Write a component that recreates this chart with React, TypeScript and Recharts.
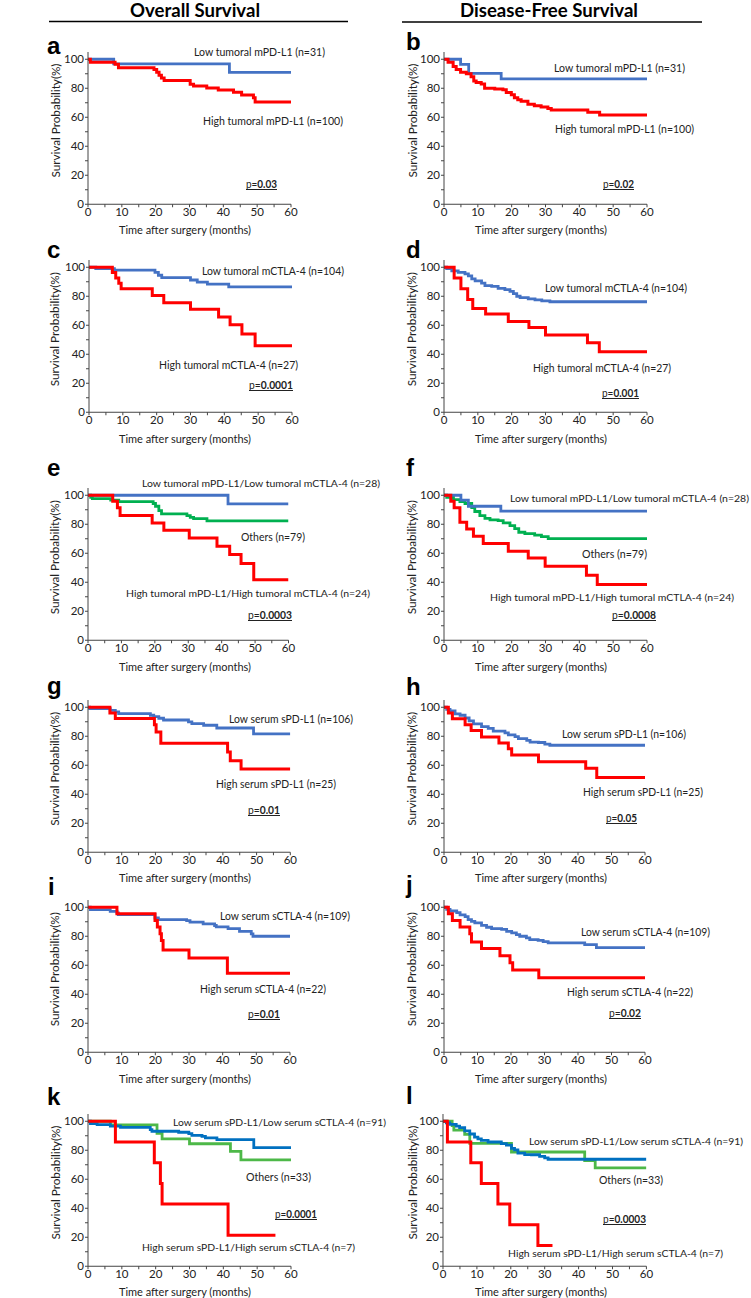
import React from "react";
import { LineChart, Line, XAxis, YAxis } from "recharts";

type Step = [number, number]; // [months, survival %]

// ---- Kaplan-Meier steps ----
const aLow: Step[] = [[0, 100], [7.6, 96.8], [41.8, 91], [60, 91]];
const aHigh: Step[] = [[0, 100], [0.7, 98], [8, 96.5], [9, 94.2], [19.5, 93], [20.3, 91], [21, 89], [21.7, 87], [22.5, 85.3], [30.2, 82.7], [31.2, 81.6], [35.1, 80.2], [38.5, 78.8], [43, 77.2], [45.4, 75.3], [48.9, 73.5], [49.4, 70.5], [60, 70.5]];

const bLow: Step[] = [[0, 100], [4.9, 96.5], [7.3, 90.3], [16.9, 86.4], [60, 86.4]];
const bHigh: Step[] = [[0, 100], [1.2, 98], [2.7, 95], [3.6, 93], [4.9, 91], [6.6, 90], [8, 88], [8.8, 85], [9.5, 84], [11, 83], [12, 80], [15, 79.5], [17.4, 79], [18.4, 77], [19.9, 75.6], [20.8, 73.5], [21.8, 72], [22.8, 71], [24.8, 69], [26.7, 68], [28.7, 67], [30.7, 66], [31.7, 65], [42.5, 63.5], [46, 61.5], [60, 61.5]];

const cLow: Step[] = [[0, 100], [2, 99], [7.5, 98], [19.5, 96.5], [20.5, 94.5], [21.5, 92.8], [30, 91.2], [32, 89.8], [35, 88.4], [41.3, 86.5], [60, 86.5]];
const cHigh: Step[] = [[0, 100], [6.9, 96.3], [7.9, 92.6], [8.8, 88.9], [9.5, 85.2], [18.7, 80.5], [22.1, 75.6], [30, 71], [38.3, 65.7], [41.7, 60.3], [45.2, 54], [49.1, 45.9], [60, 45.9]];

const dLow: Step[] = [[0, 100], [0.8, 99], [2.3, 97.5], [4.2, 96.5], [6.2, 95.4], [7.2, 94], [8.2, 92], [9.2, 90.6], [11.1, 89], [12.1, 87.3], [14.1, 86.8], [16, 85.5], [18, 84.6], [19.5, 83.4], [20.5, 81.8], [21.5, 80], [22.5, 79], [24.9, 78.2], [26.9, 77.5], [28.9, 76.8], [31.3, 76.2], [60, 76.2]];
const dHigh: Step[] = [[0, 100], [3, 92.6], [5, 85.2], [7, 77.8], [8.5, 71.6], [12.3, 67.7], [19, 62.6], [25.1, 58.4], [30, 53.3], [42.4, 48], [45.9, 41.8], [60, 41.8]];

const eLow: Step[] = [[0, 100], [41.9, 94], [60, 94]];
const eOther: Step[] = [[0, 100], [0.8, 98.6], [1.3, 97.7], [6.8, 96.6], [9.2, 95.6], [19.5, 94.3], [20.2, 92.4], [21.2, 89.4], [22, 87.1], [29.6, 86], [30.6, 84.8], [31.6, 83.9], [35.6, 82.3], [60, 82.3]];
const eHigh: Step[] = [[0, 100], [7.4, 95.9], [8.8, 91.3], [9.6, 86], [19.2, 80.9], [22.7, 75.9], [30.3, 70.6], [38.6, 64.8], [42.4, 59.1], [45.8, 52.9], [49.6, 41.8], [60, 41.8]];

const fLow: Step[] = [[0, 100], [5, 96.6], [7.2, 92.4], [16.8, 89], [60, 89]];
const fOther: Step[] = [[0, 100], [0.8, 98.6], [2.8, 97], [4.7, 95.6], [6.2, 94.3], [8.2, 91.5], [9.1, 88.8], [10.6, 86], [12.1, 84], [13.6, 83], [16, 82.5], [17.5, 81], [19.5, 79], [20.9, 77], [22.1, 74.5], [23.9, 73.5], [26.8, 72.5], [28.8, 71.5], [30.8, 70.1], [60, 70.1]];
const fHigh: Step[] = [[0, 100], [2, 95.8], [3, 91.3], [4.7, 81.4], [6.7, 76.8], [8.7, 71.7], [11.6, 66.7], [19, 61.4], [24.9, 56.8], [29.9, 51], [42.1, 44.8], [45.3, 38.4], [60, 38.4]];

const gLow: Step[] = [[0, 100], [0.5, 99], [6.6, 97.9], [8.1, 96.8], [9.1, 95.6], [18.5, 94.5], [19.5, 93.5], [21, 92.4], [22.4, 91.2], [29.8, 89.9], [30.8, 88.7], [34.3, 87.6], [38.2, 85.7], [49.1, 81.6], [60, 81.6]];
const gHigh: Step[] = [[0, 100], [6.5, 96.1], [8.1, 92.2], [19.7, 88], [20.2, 83], [21.6, 75.1], [41.4, 69.1], [42.2, 63.1], [45.4, 57.4], [60, 57.4]];

const hLow: Step[] = [[0, 100], [0.8, 98.6], [1.8, 97.5], [3.3, 95.5], [4.8, 94.5], [6.3, 92.6], [7.5, 90.6], [8.8, 88.5], [11.2, 86.7], [13.2, 85.5], [14.7, 83.6], [18.2, 82.3], [19.2, 81], [21.2, 79.8], [22.2, 78.4], [24.7, 77.2], [25.7, 76], [28.2, 75.7], [30.1, 74.6], [31.6, 73.8], [60, 73.8]];
const hHigh: Step[] = [[0, 100], [1.3, 96], [2.5, 92], [6.3, 88], [8.1, 84], [11.2, 79.5], [16.4, 75.3], [19.2, 71.3], [20.2, 67], [28.2, 62.5], [42.3, 58], [45.6, 51.5], [60, 51.5]];

const iLow: Step[] = [[0, 100], [0.7, 98.4], [6.6, 97.2], [8.6, 96.1], [9, 95], [19.9, 92.6], [20.9, 91.5], [29.3, 90.8], [30.3, 89.7], [34.2, 88.5], [37.6, 87.4], [38.1, 86.4], [41.6, 85.3], [45, 83.4], [48.5, 81.6], [49, 80], [60, 80]];
const iHigh: Step[] = [[0, 100], [8.6, 95.5], [19.9, 90.9], [20.6, 86.4], [21.4, 81.8], [21.8, 77], [22.3, 70.5], [30, 65], [41.4, 54.4], [60, 54.4]];

const jLow: Step[] = [[0, 100], [0.8, 98.5], [1.8, 97.4], [3.8, 96.3], [4.8, 94.7], [6.3, 93.6], [7.2, 91.5], [8.2, 90.3], [9.2, 89.2], [11.2, 87.5], [12.7, 86.2], [14.2, 85.3], [17.2, 84.8], [18.7, 83.4], [20.2, 82.3], [21.6, 81.1], [22.6, 80], [24.6, 78.9], [25.6, 77.7], [28.1, 77.2], [29.6, 76.3], [31.1, 75.4], [42, 74.2], [45.5, 72.2], [60, 72.2]];
const jHigh: Step[] = [[0, 100], [1.3, 95.5], [2.5, 90.9], [4.8, 86.4], [7.7, 81.8], [8.2, 76], [11.2, 71.5], [16.7, 66.5], [19.7, 61.8], [20.5, 56.7], [28.3, 51.3], [60, 51.3]];

const kLow: Step[] = [[0, 100], [0.7, 98.4], [2.7, 97.7], [6.6, 96.7], [9.6, 95.8], [18.4, 94.2], [18.9, 93.1], [26.8, 92.4], [29.8, 91.5], [30.7, 90.3], [33.7, 89.6], [34.7, 88.5], [38.1, 87.3], [49, 81.8], [60, 81.8]];
const kOther: Step[] = [[0, 100], [6.6, 97.5], [20.4, 91.7], [21.9, 87.8], [30, 84.5], [42.1, 79.2], [45.2, 73.4], [60, 73.4]];
const kHigh: Step[] = [[0, 100], [8.1, 85.7], [19.6, 71.4], [21.4, 57.1], [21.9, 42.9], [41.4, 21.4], [55.4, 21.4]];

const lLow: Step[] = [[0, 100], [1, 98.9], [2, 97.8], [3.9, 96.7], [4.9, 95.6], [6.4, 93.4], [7.9, 91.2], [9.3, 89], [10.3, 87.9], [11.3, 86.8], [13.3, 85.7], [17.2, 84.6], [18.7, 83.5], [20.2, 81.3], [21.1, 80.2], [22.1, 78], [24.1, 77], [26.1, 76.9], [28.5, 75.8], [30, 74.7], [31, 73.8], [60, 73.8]];
const lOther: Step[] = [[0, 100], [2.7, 97], [3.2, 93.9], [6.4, 90.9], [7.9, 84.8], [20.2, 78.8], [41.8, 72.9], [44.9, 67.9], [60, 67.9]];
const lHigh: Step[] = [[0, 100], [1.3, 85.7], [8.2, 71.4], [11.3, 57.1], [16.2, 42.9], [19.7, 28.6], [28, 14.3], [32.3, 14.3]];

const xTicks = [0, 5, 10, 15, 20, 25, 30, 35, 40, 45, 50, 55, 60];
const yTicks = [0, 10, 20, 30, 40, 50, 60, 70, 80, 90, 100];

const columnTitles = ["Overall Survival", "Disease-Free Survival"];
const xTitle = "Time after surgery (months)";
const yTitle = "Survival  Probability(%)";

// ---- styling ----
const FONT = "Lato, 'Open Sans', sans-serif";
const RED = "#FF0000";
const BLUE = "#4472C4";
const GREEN = "#00B050";
const BLUE2 = "#0070C0";
const GREEN2 = "#4DB848";

const PLOT_H = 152.25; // 0..105 at 145px per 100
const YW = 30;
const XH = 24;
const RM = 12;

interface Series { data: Step[]; color: string; width: number }
interface Note { text: string; x: number; r: number; y: number; p?: boolean }
interface Panel { letter: string; lx: number; ly: number; x0: number; w: number; yb: number; series: Series[]; notes: Note[] }

const red = (data: Step[]): Series => ({ data, color: RED, width: 3 });
const blue = (data: Step[], c = BLUE): Series => ({ data, color: c, width: 2.8 });
const green = (data: Step[], c = GREEN): Series => ({ data, color: c, width: 2.8 });

const panels: Panel[] = [
  { letter: "a", lx: 47, ly: 54, x0: 88, w: 203, yb: 204, series: [blue(aLow), red(aHigh)], notes: [
    { text: "Low tumoral mPD-L1 (n=31)", x: 194, r: 325, y: 51 },
    { text: "High tumoral mPD-L1 (n=100)", x: 203, r: 343, y: 120 },
    { text: "0.03", x: 246, r: 277, y: 183, p: true }] },
  { letter: "b", lx: 406, ly: 50, x0: 444, w: 203, yb: 204, series: [blue(bLow), red(bHigh)], notes: [
    { text: "Low tumoral mPD-L1 (n=31)", x: 554, r: 685, y: 67 },
    { text: "High tumoral mPD-L1 (n=100)", x: 555, r: 694, y: 128 },
    { text: "0.02", x: 603, r: 634, y: 183, p: true }] },
  { letter: "c", lx: 47, ly: 258, x0: 88.5, w: 203, yb: 412.7, series: [blue(cLow), red(cHigh)], notes: [
    { text: "Low tumoral mCTLA-4 (n=104)", x: 202, r: 344, y: 270 },
    { text: "High tumoral mCTLA-4 (n=27)", x: 159, r: 298, y: 364 },
    { text: "0.0001", x: 249, r: 293, y: 384, p: true }] },
  { letter: "d", lx: 406, ly: 258, x0: 444, w: 203, yb: 412.7, series: [blue(dLow), red(dHigh)], notes: [
    { text: "Low tumoral mCTLA-4 (n=104)", x: 545, r: 687, y: 287 },
    { text: "High tumoral mCTLA-4 (n=27)", x: 533, r: 671, y: 367 },
    { text: "0.001", x: 602, r: 639, y: 392, p: true }] },
  { letter: "e", lx: 47, ly: 476, x0: 87.7, w: 200.5, yb: 640.7, series: [green(eOther), blue(eLow), red(eHigh)], notes: [
    { text: "Low tumoral mPD-L1/Low tumoral mCTLA-4 (n=28)", x: 142, r: 380, y: 483 },
    { text: "Others (n=79)", x: 241, r: 305, y: 536 },
    { text: "High tumoral mPD-L1/High tumoral mCTLA-4 (n=24)", x: 126, r: 370, y: 593 },
    { text: "0.0003", x: 248, r: 292, y: 614, p: true }] },
  { letter: "f", lx: 406, ly: 476, x0: 444, w: 203, yb: 640.7, series: [green(fOther), blue(fLow), red(fHigh)], notes: [
    { text: "Low tumoral mPD-L1/Low tumoral mCTLA-4 (n=28)", x: 510, r: 749, y: 498 },
    { text: "Others (n=79)", x: 582, r: 647, y: 553 },
    { text: "High tumoral mPD-L1/High tumoral mCTLA-4 (n=24)", x: 490, r: 734, y: 597 },
    { text: "0.0008", x: 612, r: 656, y: 614, p: true }] },
  { letter: "g", lx: 47, ly: 694, x0: 87.7, w: 202.3, yb: 852.3, series: [blue(gLow), red(gHigh)], notes: [
    { text: "Low serum sPD-L1 (n=106)", x: 229, r: 353, y: 718 },
    { text: "High serum sPD-L1 (n=25)", x: 216, r: 336, y: 783 },
    { text: "0.01", x: 248, r: 280, y: 809, p: true }] },
  { letter: "h", lx: 406, ly: 695, x0: 444, w: 201, yb: 852.3, series: [blue(hLow), red(hHigh)], notes: [
    { text: "Low serum sPD-L1 (n=106)", x: 562, r: 686, y: 733 },
    { text: "High serum sPD-L1 (n=25)", x: 583, r: 703, y: 791 },
    { text: "0.05", x: 606, r: 637, y: 817, p: true }] },
  { letter: "i", lx: 48, ly: 895, x0: 88, w: 202, yb: 1052.7, series: [blue(iLow), red(iHigh)], notes: [
    { text: "Low serum sCTLA-4 (n=109)", x: 220, r: 350, y: 915 },
    { text: "High serum sCTLA-4 (n=22)", x: 200, r: 326, y: 988 },
    { text: "0.01", x: 248, r: 280, y: 1013, p: true }] },
  { letter: "j", lx: 406, ly: 893, x0: 444, w: 201, yb: 1052.7, series: [blue(jLow), red(jHigh)], notes: [
    { text: "Low serum sCTLA-4 (n=109)", x: 581, r: 710, y: 931 },
    { text: "High serum sCTLA-4 (n=22)", x: 567, r: 693, y: 991 },
    { text: "0.02", x: 609, r: 641, y: 1012, p: true }] },
  { letter: "k", lx: 47, ly: 1105, x0: 88, w: 203, yb: 1266, series: [green(kOther, GREEN2), blue(kLow, BLUE2), red(kHigh)], notes: [
    { text: "Low serum sPD-L1/Low serum sCTLA-4 (n=91)", x: 173, r: 386, y: 1122 },
    { text: "Others (n=33)", x: 246, r: 311, y: 1176 },
    { text: "0.0001", x: 275, r: 317, y: 1213, p: true },
    { text: "High serum sPD-L1/High serum sCTLA-4 (n=7)", x: 142, r: 355, y: 1247 }] },
  { letter: "l", lx: 406, ly: 1104, x0: 443.3, w: 203.4, yb: 1266, series: [green(lOther, GREEN2), blue(lLow, BLUE2), red(lHigh)], notes: [
    { text: "Low serum sPD-L1/Low serum sCTLA-4 (n=91)", x: 529, r: 743, y: 1141 },
    { text: "Others (n=33)", x: 599, r: 663, y: 1179 },
    { text: "0.0003", x: 603, r: 646, y: 1218, p: true },
    { text: "High serum sPD-L1/High serum sCTLA-4 (n=7)", x: 508, r: 723, y: 1253 }] },
];

const toRows = (d: Step[]) => d.map(([t, v]) => ({ t, v }));

function KmPanel({ p }: { p: Panel }) {
  const tick = { fontSize: 11.5, fill: "#222", fontFamily: FONT };
  return (
    <div style={{ position: "absolute", left: p.x0 - YW, top: p.yb - PLOT_H }}>
      <LineChart width={YW + p.w + RM} height={PLOT_H + XH} margin={{ top: 0, right: RM, bottom: 0, left: 0 }}>
        <XAxis type="number" dataKey="t" domain={[0, 60]} ticks={xTicks} interval={0}
          tickFormatter={(v: number) => (v % 10 === 0 ? String(v) : "")}
          height={XH} tickSize={3} tickMargin={1} stroke="#444" tick={tick} allowDataOverflow />
        <YAxis type="number" domain={[0, 105]} ticks={yTicks} interval={0}
          tickFormatter={(v: number) => (v % 20 === 0 ? String(v) : "")}
          width={YW} tickSize={3} tickMargin={1} stroke="#444" tick={tick} allowDataOverflow />
        {p.series.map((s, i) => (
          <Line key={i} data={toRows(s.data)} dataKey="v" type="stepAfter" stroke={s.color}
            strokeWidth={s.width} dot={false} activeDot={false} isAnimationActive={false} />
        ))}
      </LineChart>
    </div>
  );
}

function Overlay() {
  return (
    <svg width={751} height={1298} style={{ position: "absolute", left: 0, top: 0, pointerEvents: "none" }} fontFamily={FONT}>
      <text x={195} y={17} textAnchor="middle" fontSize={18} fontWeight="bold" textLength={130} lengthAdjust="spacingAndGlyphs">{columnTitles[0]}</text>
      <text x={549} y={17} textAnchor="middle" fontSize={18} fontWeight="bold" textLength={178} lengthAdjust="spacingAndGlyphs">{columnTitles[1]}</text>
      <line x1={49} x2={348} y1={21.5} y2={21.5} stroke="#000" strokeWidth={1.5} />
      <line x1={402} x2={702} y1={22} y2={22} stroke="#000" strokeWidth={1.5} />
      {panels.map((p) => {
        const left = p.x0 < 300;
        const yc = p.yb - 72.5 - 11;
        const yx = left ? 55 : 412;
        return (
          <g key={p.letter}>
            <text x={p.lx} y={p.ly} fontSize={24} fontWeight="bold" fontFamily="'Liberation Sans', Arial, sans-serif">{p.letter}</text>
            <text x={left ? 185 : 541} y={p.yb + 25.5} textAnchor="middle" dominantBaseline="central" fontSize={11.5} fill="#222" textLength={132} lengthAdjust="spacingAndGlyphs">{xTitle}</text>
            <text x={yx} y={yc} transform={`rotate(-90 ${yx} ${yc})`} textAnchor="middle" dominantBaseline="central" fontSize={11} fill="#222" textLength={114} lengthAdjust="spacingAndGlyphs">{yTitle}</text>
            {p.notes.map((n, i) =>
              n.p ? (
                <g key={i}>
                  <text x={n.x} y={n.y} dominantBaseline="central" fontSize={11} fill="#222" textLength={n.r - n.x} lengthAdjust="spacingAndGlyphs">
                    <tspan>p=</tspan><tspan fontWeight="bold">{n.text}</tspan>
                  </text>
                  <line x1={n.x} x2={n.r} y1={n.y + 6.5} y2={n.y + 6.5} stroke="#222" strokeWidth={1} />
                </g>
              ) : (
                <text key={i} x={n.x} y={n.y} dominantBaseline="central" fontSize={n.text.length > 38 ? 10.4 : 11} fill="#222" textLength={n.r - n.x} lengthAdjust="spacingAndGlyphs">{n.text}</text>
              )
            )}
          </g>
        );
      })}
    </svg>
  );
}

export default function App() {
  return (
    <div style={{ position: "absolute", left: 0, top: 0, width: 751, height: 1298, background: "#fff" }}>
      {panels.map((p) => (
        <KmPanel key={p.letter} p={p} />
      ))}
      <Overlay />
    </div>
  );
}
